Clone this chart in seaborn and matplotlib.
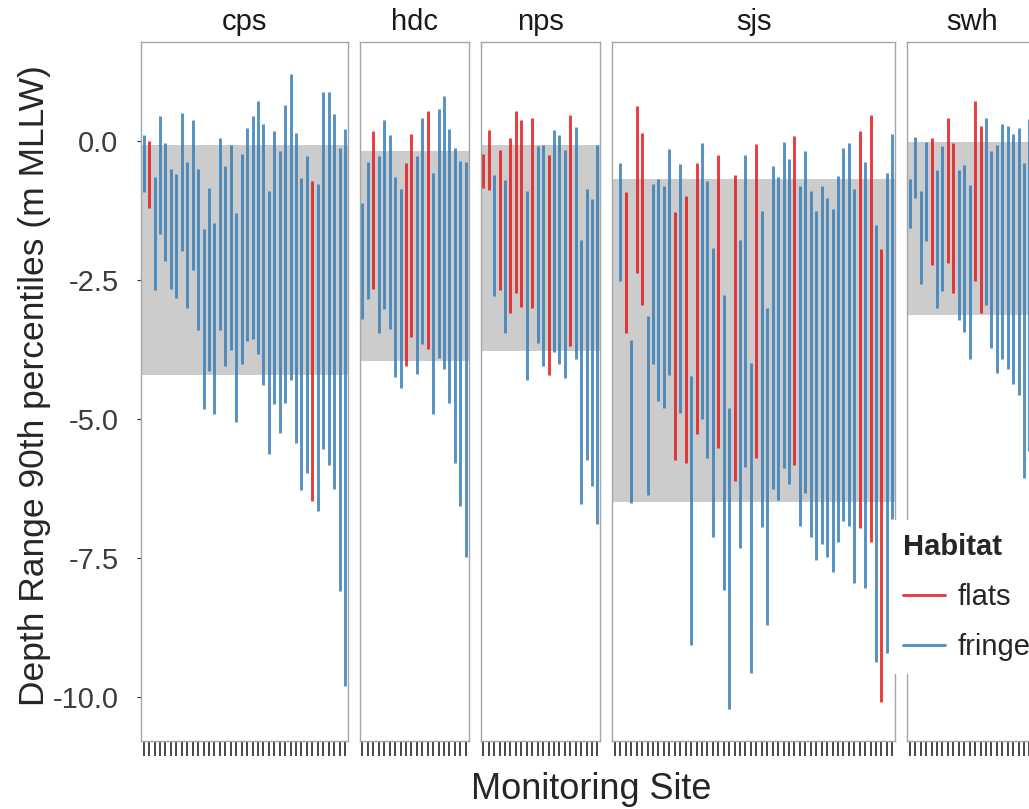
import numpy as np
import pandas as pd
import seaborn as sns
import matplotlib.pyplot as plt
from matplotlib.lines import Line2D

nan = np.nan

# facets, left to right
regions = ["cps", "hdc", "nps", "sjs", "swh"]

# depth range (90th percentiles, m MLLW) of each monitoring site: upper and lower end
cps_top = [0.10, 0.00, -0.65, 0.45, -0.04, -0.50, -0.59, 0.51, -0.38, 0.38,
           -0.50, -1.59, -0.84, -1.48, 0.05, -0.45, -0.08, -1.30, -0.23, 0.24,
           0.44, 0.71, 0.30, -0.90, 0.18, -0.18, 0.65, 1.20, 0.14, -0.67,
           -0.27, -0.73, -0.77, 0.88, 0.88, 0.48, -0.12, 0.22]
cps_bottom = [-0.92, -1.21, -2.69, -1.68, -2.16, -2.67, -2.82, -1.99, -3.00, -2.33,
              -3.41, -4.82, -4.14, -4.92, -3.41, -4.05, -3.77, -5.06, -4.02, -3.60,
              -3.57, -3.84, -4.39, -5.63, -4.74, -5.26, -4.71, -4.30, -5.43, -6.29,
              -5.97, -6.48, -6.66, -5.55, -5.83, -6.27, -8.10, -9.81]
cps_flats = [2, 32]  # site numbers with habitat "flats", all others are "fringe"

hdc_top = [-1.11, -0.38, 0.18, -0.28, 0.37, 0.10, -0.65, -0.86, -0.40, 0.12,
           -0.28, 0.41, 0.54, -0.58, 0.58, 0.81, 0.22, -0.13, -0.36, -0.38]
hdc_bottom = [-3.20, -2.84, -2.67, -3.46, -3.03, -3.39, -4.25, -4.45, -4.05, -3.53,
              -4.20, -3.65, -3.74, -4.92, -3.91, -4.11, -4.71, -5.80, -6.57, -7.48]
hdc_flats = [3, 9, 10, 13]

nps_top = [-0.23, 0.19, -0.61, -0.17, -0.71, 0.06, 0.54, 0.37, -0.90, 0.41, -0.09,
           -0.07, -0.25, 0.19, 0.10, -0.17, 0.46, 0.25, -1.78, -0.86, -1.04, -0.07]
nps_bottom = [-0.84, -0.88, -2.80, -2.69, -3.46, -3.10, -2.74, -2.99, -4.30, -3.01, -3.63,
              -4.05, -4.22, -3.80, -4.01, -4.26, -3.69, -3.92, -6.54, -5.75, -6.21, -6.89]
nps_flats = [1, 2, 4, 6, 7, 8, 10, 13, 17]

sjs_top = [nan, -0.40, -0.92, -3.59, 0.62, 0.15, -3.16, -0.78, -0.68, -0.81,
           -0.15, -1.28, -0.42, -1.00, -4.24, -0.40, -0.03, -0.73, -1.92, -0.25,
           -2.78, -4.80, -0.61, -1.78, -0.26, -3.99, -0.05, -1.26, -3.00, -0.45,
           -0.65, -0.02, -0.32, 0.08, -0.81, -0.18, -0.90, -1.27, -0.82, -1.02,
           -1.23, -0.64, -0.13, -0.04, -0.86, 0.18, -0.38, 0.46, -1.51, -1.94,
           -0.57, 0.12]
sjs_bottom = [nan, -2.53, -3.45, -6.52, -2.38, -2.95, -6.37, -4.01, -4.68, -4.80,
              -4.22, -5.75, -4.89, -5.80, -9.08, -5.28, -5.01, -5.70, -7.12, -5.53,
              -8.08, -10.23, -6.12, -7.33, -5.87, -9.58, -5.71, -6.94, -8.71, -6.27,
              -6.47, -5.88, -6.18, -5.83, -6.93, -6.33, -7.12, -7.54, -7.26, -7.48,
              -7.75, -7.21, -6.84, -6.93, -7.96, -6.97, -8.04, -7.21, -9.37, -10.09,
              -9.21, -6.81]
sjs_flats = [3, 5, 6, 12, 14, 16, 20, 23, 27, 34, 46, 48, 50]

swh_top = [-0.68, 0.07, -0.90, -0.02, 0.05, -0.52, -0.10, 0.41, -0.04, -0.52, -0.44,
           -0.80, 0.72, 0.26, 0.41, -0.19, -0.08, 0.31, 0.26, 0.13, 0.23, -0.40, 0.40]
swh_bottom = [-1.57, -1.03, -2.58, -1.80, -2.23, -3.00, -2.70, -2.19, -2.73, -3.22, -3.44,
              -3.93, -2.52, -3.09, -2.95, -3.72, -4.17, -3.92, -4.10, -4.38, -4.58, -6.06, -5.58]
swh_flats = [5, 8, 9, 13, 14]

# grey band of each region (upper, lower)
band_top = [-0.07, -0.19, -0.07, -0.69, -0.02]
band_bottom = [-4.22, -3.97, -3.78, -6.49, -3.14]

y_ticks = [0.0, -2.5, -5.0, -7.5, -10.0]
y_ticklabels = ["0.0", "-2.5", "-5.0", "-7.5", "-10.0"]

palette = {"flats": "#E41A1C", "fringe": "#377EB8"}

site_data = {
    "cps": (cps_top, cps_bottom, cps_flats),
    "hdc": (hdc_top, hdc_bottom, hdc_flats),
    "nps": (nps_top, nps_bottom, nps_flats),
    "sjs": (sjs_top, sjs_bottom, sjs_flats),
    "swh": (swh_top, swh_bottom, swh_flats),
}


def region_frame(top, bottom, flats):
    n = len(top)
    hab = ["flats" if i + 1 in flats else "fringe" for i in range(n)]
    df = pd.DataFrame({"site": np.arange(n), "top": top, "bottom": bottom, "habitat": hab})
    df = df.melt(id_vars=["site", "habitat"], value_vars=["top", "bottom"],
                 value_name="depth")
    return df.dropna()


sns.set_theme(style="white")
plt.rcParams["font.family"] = ["Liberation Sans", "DejaVu Sans"]

W, H = 1029, 809
fig = plt.figure(figsize=(W / 100, H / 100), dpi=100)

unit = 5.44      # px per site
gap = 12         # px between panels
left = 141
y_top, y_bot = 42, 741
# swh continues beyond the picture, give it one more slot
extra_slots = {"swh": 1}

for k, name in enumerate(regions):
    top, bottom, flats = site_data[name]
    slots = len(top) + extra_slots.get(name, 0)
    width = slots * unit
    ax = fig.add_axes([left / W, 1 - y_bot / H, width / W, (y_bot - y_top) / H])
    left += width + gap

    ax.axhspan(band_bottom[k], band_top[k], color="#cccccc", lw=0, zorder=0)
    d = region_frame(top, bottom, flats)
    sns.lineplot(data=d, x="site", y="depth", hue="habitat", units="site",
                 estimator=None, palette=palette, hue_order=["flats", "fringe"],
                 linewidth=2.1, alpha=0.85, legend=False, sort=False, ax=ax,
                 solid_capstyle="butt")

    ax.set_xlim(-0.5, slots - 0.5)
    ax.set_ylim(-10.8, 1.78)
    ax.set_xlabel("")
    ax.set_ylabel("")
    ax.set_xticks(range(slots))
    ax.set_xticklabels([])
    ax.tick_params(axis="x", bottom=True, length=11, width=1.15, color="#1f1f1f",
                   direction="out")
    ax.set_yticks(y_ticks)
    if k == 0:
        ax.set_yticklabels(y_ticklabels)
        ax.tick_params(axis="y", left=True, length=3.2, width=0.8, color="#333333",
                       pad=13, labelsize=21, labelcolor="#3d3d3d")
    else:
        ax.tick_params(axis="y", left=False, labelleft=False)
    for sp in ax.spines.values():
        sp.set_color("#a6a6a6")
        sp.set_linewidth(1.0)
    ax.set_title(name, fontsize=21, pad=8.6, color="#1a1a1a")
    ax.set_facecolor("white")

fig.text(35 / W, 1 - 386 / H, "Depth Range 90th percentiles (m MLLW)", rotation=90,
         ha="center", va="center", fontsize=25.5)
fig.text(591 / W, 1 - 799 / H, "Monitoring Site", ha="center", va="baseline", fontsize=26)

handles = [Line2D([], [], color=palette[h], lw=2.1, alpha=0.85) for h in ["flats", "fringe"]]
fig.legend(handles, ["flats", "fringe"], title="Habitat", loc="upper left",
           bbox_to_anchor=(890 / W, 1 - 520 / H), frameon=True, facecolor="white",
           edgecolor="none", framealpha=1, fancybox=False, fontsize=21,
           title_fontproperties={"weight": "bold", "size": 21}, alignment="left",
           handlelength=1.45, handletextpad=0.42, labelspacing=0.75, borderpad=0.45,
           borderaxespad=0)

fig.savefig("out.png", dpi=100)
